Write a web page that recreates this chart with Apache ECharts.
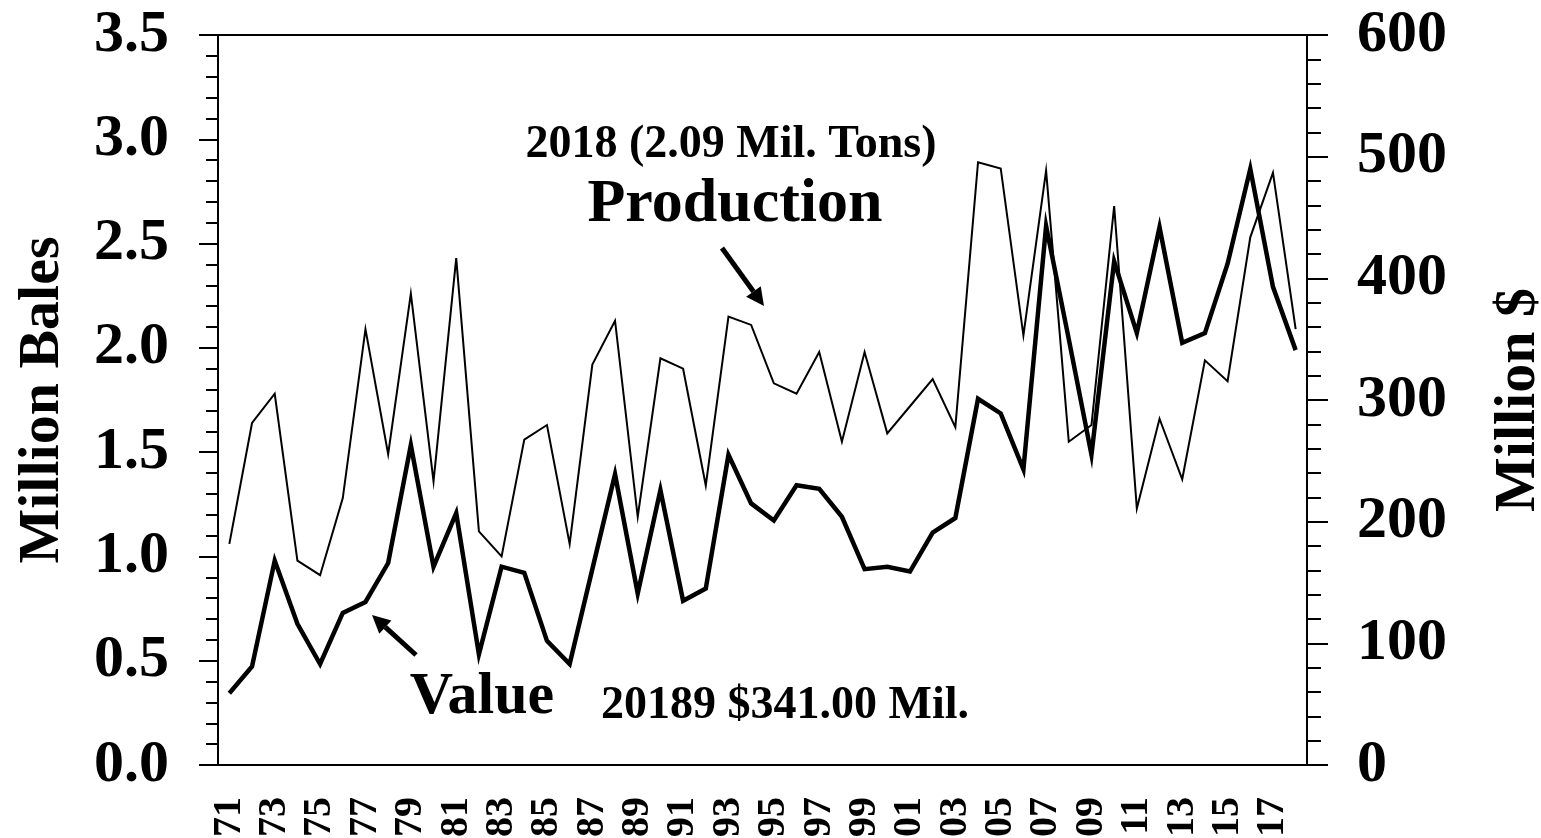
<!DOCTYPE html>
<html>
<head>
<meta charset="utf-8">
<script src="https://cdn.jsdelivr.net/npm/echarts@6/dist/echarts.min.js"></script>
<style>
    html, body { margin: 0; padding: 0; background: #fff; }
    #chart { width: 1541px; height: 838px; }
</style>
</head>
<body>
<div id="chart"></div>
<script>
// crop years 1971 - 2018
var years = [1971, 1972, 1973, 1974, 1975, 1976, 1977, 1978, 1979, 1980,
    1981, 1982, 1983, 1984, 1985, 1986, 1987, 1988, 1989, 1990,
    1991, 1992, 1993, 1994, 1995, 1996, 1997, 1998, 1999, 2000,
    2001, 2002, 2003, 2004, 2005, 2006, 2007, 2008, 2009, 2010,
    2011, 2012, 2013, 2014, 2015, 2016, 2017, 2018];

// production, million bales (left axis)
var production = [1.06, 1.64, 1.78, 0.98, 0.91, 1.28, 2.09, 1.49, 2.26, 1.36,
    2.43, 1.12, 1.00, 1.56, 1.63, 1.06, 1.92, 2.13, 1.19, 1.95,
    1.90, 1.34, 2.15, 2.11, 1.83, 1.78, 1.98, 1.55, 1.98, 1.59,
    1.72, 1.85, 1.62, 2.89, 2.86, 2.06, 2.85, 1.55, 1.63, 2.68,
    1.23, 1.66, 1.37, 1.94, 1.84, 2.53, 2.84, 2.09];

// value, million $ (right axis)
var value = [59, 81, 168, 116, 83, 125, 134, 166, 263, 163,
    207, 91, 163, 158, 102, 83, 161, 239, 141, 226,
    135, 145, 255, 215, 201, 230, 227, 204, 161, 163,
    159, 191, 203, 301, 289, 243, 443, 350, 255, 414,
    355, 442, 347, 355, 412, 490, 393, 341];

var baleTicks = [0, 3.5, 0.5];   // min, max, interval
var dollarTicks = [0, 600, 100];

var serif = "'Liberation Serif', 'Times New Roman', serif";

function arrow(x1, y1, x2, y2) {
    // shaft plus filled head, tip at (x2, y2)
    var ang = Math.atan2(y2 - y1, x2 - x1);
    var hl = 18, hw = 9;
    var bx = x2 - hl * Math.cos(ang), by = y2 - hl * Math.sin(ang);
    var px = -Math.sin(ang) * hw, py = Math.cos(ang) * hw;
    return [{
        type: 'line',
        shape: { x1: x1, y1: y1, x2: bx, y2: by },
        style: { stroke: '#000', lineWidth: 5 }
    }, {
        type: 'polygon',
        shape: { points: [[x2, y2], [bx + px, by + py], [bx - px, by - py]] },
        style: { fill: '#000' }
    }];
}

function label(text, x, y, size) {
    return {
        type: 'text',
        x: x,
        y: y,
        style: {
            text: text,
            fill: '#000',
            font: 'bold ' + size + 'px ' + serif,
            textAlign: 'center',
            textVerticalAlign: 'middle'
        }
    };
}

var myChart = echarts.init(document.getElementById('chart'));
var option = {
    animation: false,
    backgroundColor: '#fff',
    grid: {
        left: 218,
        right: 234,
        top: 35,
        bottom: 73,
        outerBoundsMode: 'none',
        containLabel: false,
        show: true,
        borderColor: '#000',
        borderWidth: 2
    },
    xAxis: {
        type: 'category',
        data: years,
        boundaryGap: true,
        axisLine: { lineStyle: { color: '#000', width: 2 } },
        axisTick: { interval: 0, length: 12, lineStyle: { color: '#000', width: 2 } },
        axisLabel: {
            interval: 1,
            rotate: 90,
            margin: 32,
            color: '#000',
            fontFamily: serif,
            fontWeight: 'bold',
            fontSize: 40,
            formatter: function (v) { return String(v).slice(2); }
        },
        splitLine: { show: false }
    },
    yAxis: [{
        type: 'value',
        min: baleTicks[0],
        max: baleTicks[1],
        interval: baleTicks[2],
        name: 'Million Bales',
        nameLocation: 'middle',
        nameGap: 146,
        nameRotate: 90,
        nameTextStyle: { color: '#000', fontFamily: serif, fontWeight: 'bold', fontSize: 58 },
        axisLine: { show: true, lineStyle: { color: '#000', width: 2 } },
        axisTick: { show: true, length: 19, lineStyle: { color: '#000', width: 2 } },
        minorTick: { show: true, splitNumber: 5, length: 12, lineStyle: { color: '#000', width: 2 } },
        axisLabel: {
            margin: 49,
            color: '#000',
            fontFamily: serif,
            fontWeight: 'bold',
            fontSize: 60,
            formatter: function (v) { return v.toFixed(1); }
        },
        splitLine: { show: false }
    }, {
        type: 'value',
        position: 'right',
        min: dollarTicks[0],
        max: dollarTicks[1],
        interval: dollarTicks[2],
        name: 'Million $',
        nameLocation: 'middle',
        nameGap: 183,
        nameRotate: 90,
        nameTextStyle: { color: '#000', fontFamily: serif, fontWeight: 'bold', fontSize: 58 },
        axisLine: { show: true, lineStyle: { color: '#000', width: 2 } },
        axisTick: { show: true, length: 21, lineStyle: { color: '#000', width: 2 } },
        minorTick: { show: true, splitNumber: 5, length: 14, lineStyle: { color: '#000', width: 2 } },
        axisLabel: {
            margin: 50,
            color: '#000',
            fontFamily: serif,
            fontWeight: 'bold',
            fontSize: 60
        },
        splitLine: { show: false }
    }],
    series: [{
        name: 'Production',
        type: 'line',
        yAxisIndex: 0,
        data: production,
        symbol: 'none',
        lineStyle: { color: '#000', width: 2, join: 'miter' }
    }, {
        name: 'Value',
        type: 'line',
        yAxisIndex: 1,
        data: value,
        symbol: 'none',
        lineStyle: { color: '#000', width: 4.5, join: 'miter' }
    }],
    graphic: [
        label('2018 (2.09 Mil. Tons)', 731, 145, 46),
        label('Production', 735, 205, 62),
        label('Value', 482, 697, 60),
        label('20189 $341.00 Mil.', 785, 706, 46)
    ].concat(arrow(722, 248, 764, 306), arrow(416, 655, 372, 615))
};
myChart.setOption(option);
</script>
</body>
</html>
